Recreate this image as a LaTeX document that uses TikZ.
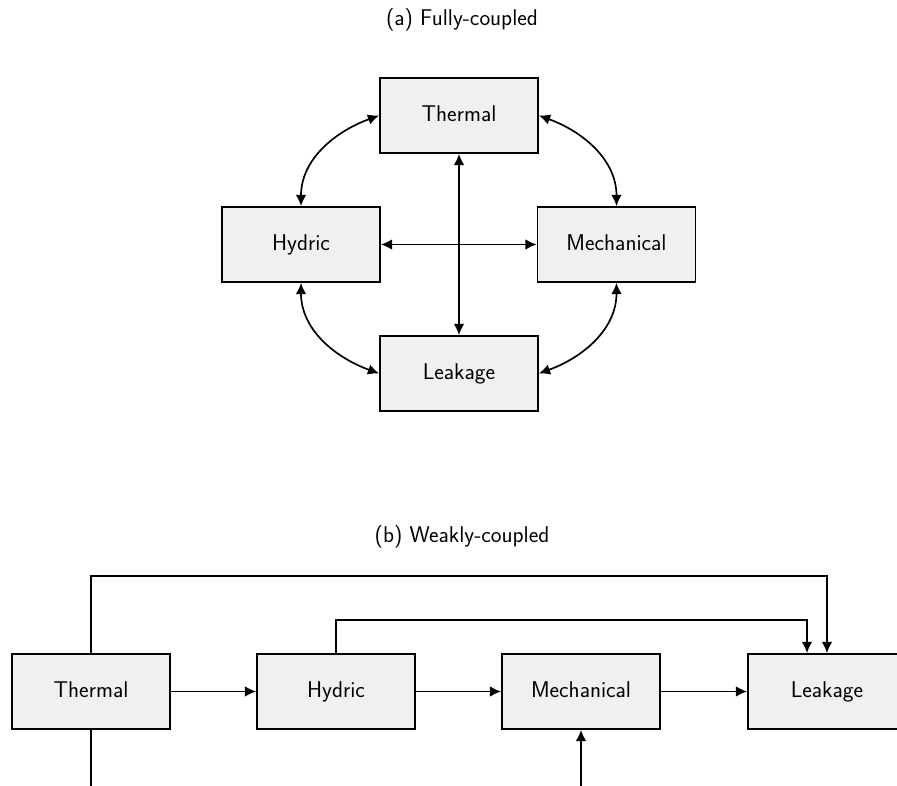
\documentclass[tikz,border=0pt]{standalone}
\usetikzlibrary{arrows.meta,calc}
\begin{document}
\begin{tikzpicture}[x=0.025cm,y=-0.025cm,
  font=\sffamily\fontsize{16.2}{19}\selectfont,
  box/.style={draw=black, fill=gray!12, line width=1.2pt, minimum width=3.95cm, minimum height=1.875cm, inner sep=0pt, text height=11.5pt, text depth=3.5pt, anchor=center},
  conn/.style={line width=1.2pt, -{Latex[length=8pt,width=7.5pt]}},
  biconn/.style={line width=1.2pt, {Latex[length=8pt,width=7.5pt]}-{Latex[length=8pt,width=7.5pt]}},
  plain/.style={line width=1.2pt},
  title/.style={inner sep=0pt}]
\clip (0,0) rectangle (897,786);
% (a)
\node[title] (ta) at (462,20) {(a) Fully-coupled};
\node[box] (T) at (459,115.5) {Thermal};
\node[box] (H) at (301,244.5) {Hydric};
\node[box] (M) at (616.5,244.5) {Mechanical};
\node[box] (L) at (459,373.5) {Leakage};
\draw[biconn] (T.west) to[out=200,in=90] (H.north);
\draw[biconn] (T.east) to[out=-20,in=90] (M.north);
\draw[biconn] (H.south) to[out=-90,in=160] (L.west);
\draw[biconn] (M.south) to[out=-90,in=20] (L.east);
\draw[biconn] (T.south) -- (L.north);
\draw[biconn] (H.east) -- (M.west);
% (b)
\node[title] (tb) at (462,537) {(b) Weakly-coupled};
\node[box] (T2) at (91,691.5) {Thermal};
\node[box] (H2) at (336,691.5) {Hydric};
\node[box] (M2) at (581,691.5) {Mechanical};
\node[box] (L2) at (827,691.5) {Leakage};
\draw[conn] (T2.east) -- (H2.west);
\draw[conn] (H2.east) -- (M2.west);
\draw[conn] (M2.east) -- (L2.west);
\draw[conn] (T2.north) -- ++(0,-77) -| (L2.north);
\draw[conn] (H2.north) -- ++(0,-33) -| ($(L2.north)+(-20,0)$);
\coordinate (tbot) at (91,800);
\coordinate (mbot) at (581,800);
\draw[plain] (T2.south) -- (tbot);
\draw[conn] (mbot) -- (M2.south);
\end{tikzpicture}
\end{document}
